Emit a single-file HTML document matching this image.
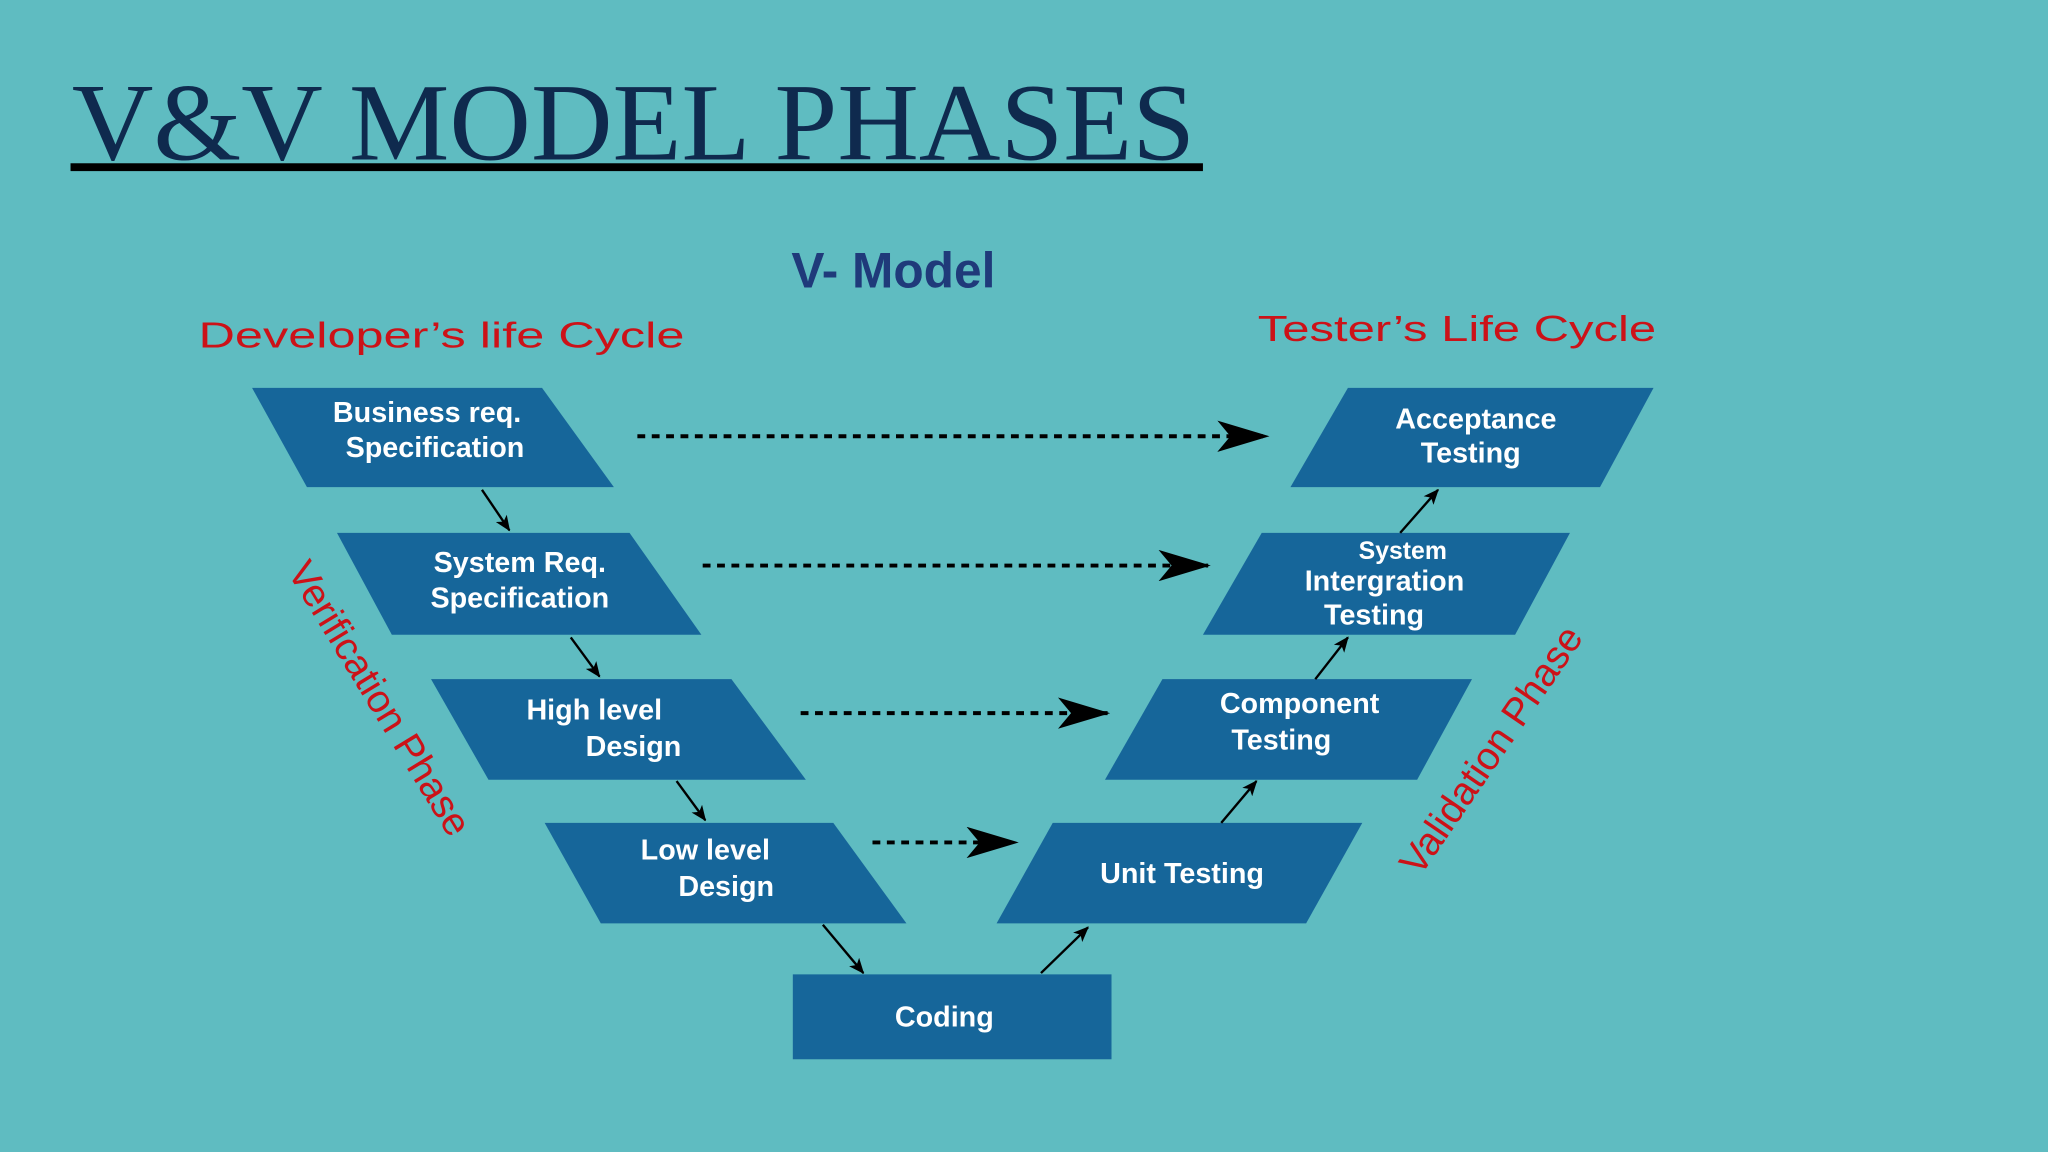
<!DOCTYPE html>
<html><head><meta charset="utf-8"><style>
html,body{margin:0;padding:0;background:#5fbcc1;}
svg{display:block}
</style></head><body>
<svg width="2048" height="1152" viewBox="0 0 1568 882" xmlns="http://www.w3.org/2000/svg">
<defs>
<marker id="big" viewBox="0 0 40 24" refX="38" refY="12" markerWidth="40" markerHeight="24" markerUnits="userSpaceOnUse" orient="auto">
<path d="M0,0 L40,12 L0,24 L10,12 Z" fill="#000"/></marker>
<marker id="sm" viewBox="0 0 12 10" refX="11" refY="5" markerWidth="12" markerHeight="10" markerUnits="userSpaceOnUse" orient="auto">
<path d="M0,0 L12,5 L0,10 L3,5 Z" fill="#000"/></marker>
</defs>
<rect width="1568" height="882" fill="#5fbcc1"/>
<text x="55" y="122" font-family="Liberation Serif, serif" font-size="84" fill="#0f2a4e" textLength="860" lengthAdjust="spacingAndGlyphs">V&amp;V MODEL PHASES</text>
<rect x="54" y="125" width="867" height="6" fill="#000"/>
<text x="684" y="220" text-anchor="middle" font-family="Liberation Sans, sans-serif" font-weight="bold" font-size="38" fill="#1f3a7a">V- Model</text>
<g font-family="Liberation Sans, sans-serif" font-size="28" fill="#cc1218">
<text x="152" y="266" textLength="372" lengthAdjust="spacingAndGlyphs">Developer’s life Cycle</text>
<text x="963" y="261" textLength="305" lengthAdjust="spacingAndGlyphs">Tester’s Life Cycle</text>
<text transform="translate(282,540) rotate(58.6)" text-anchor="middle" font-size="30">Verification Phase</text>
<text transform="translate(1150,580) rotate(-55.6)" text-anchor="middle" font-size="30">Validation Phase</text>
</g>
<g fill="#16669a">
<polygon points="193,297 415,297 470,373 235,373"/>
<polygon points="258,408 482,408 537,486 300,486"/>
<polygon points="330,520 560,520 617,597 374,597"/>
<polygon points="417,630 638,630 694,707 460,707"/>
<rect x="607" y="746" width="244" height="65"/>
<polygon points="1032,297 1266,297 1225,373 988,373"/>
<polygon points="966,408 1202,408 1160,486 921,486"/>
<polygon points="890,520 1127,520 1085,597 846,597"/>
<polygon points="806,630 1043,630 1000,707 763,707"/>
</g>
<g font-family="Liberation Sans, sans-serif" font-weight="bold" font-size="22" fill="#fff" text-anchor="middle">
<text x="327" y="323">Business req.</text><text x="333" y="350">Specification</text>
<text x="398" y="438">System Req.</text><text x="398" y="465">Specification</text>
<text x="455" y="551">High level</text><text x="485" y="579">Design</text>
<text x="540" y="658">Low level</text><text x="556" y="686">Design</text>
<text x="723" y="786">Coding</text>
<text x="1130" y="328">Acceptance</text><text x="1126" y="354">Testing</text>
<text x="1074" y="428" font-size="19">System</text><text x="1060" y="452">Intergration</text><text x="1052" y="478">Testing</text>
<text x="995" y="546">Component</text><text x="981" y="574">Testing</text>
<text x="905" y="676">Unit Testing</text>
</g>
<g stroke="#000" stroke-width="3" stroke-dasharray="6,5" fill="none">
<line x1="488" y1="334" x2="970" y2="334" marker-end="url(#big)"/>
<line x1="538" y1="433" x2="925" y2="433" marker-end="url(#big)"/>
<line x1="613" y1="546" x2="848" y2="546" marker-end="url(#big)"/>
<line x1="668" y1="645" x2="778" y2="645" marker-end="url(#big)"/>
</g>
<g stroke="#000" stroke-width="1.8">
<line x1="369" y1="375" x2="390" y2="406" marker-end="url(#sm)"/>
<line x1="437" y1="488" x2="459" y2="518" marker-end="url(#sm)"/>
<line x1="518" y1="598" x2="540" y2="628" marker-end="url(#sm)"/>
<line x1="630" y1="708" x2="661" y2="745" marker-end="url(#sm)"/>
<line x1="797" y1="745" x2="833" y2="710" marker-end="url(#sm)"/>
<line x1="935" y1="630" x2="962" y2="598" marker-end="url(#sm)"/>
<line x1="1007" y1="520" x2="1032" y2="488" marker-end="url(#sm)"/>
<line x1="1072" y1="408" x2="1101" y2="375" marker-end="url(#sm)"/>
</g>
</svg>
</body></html>
